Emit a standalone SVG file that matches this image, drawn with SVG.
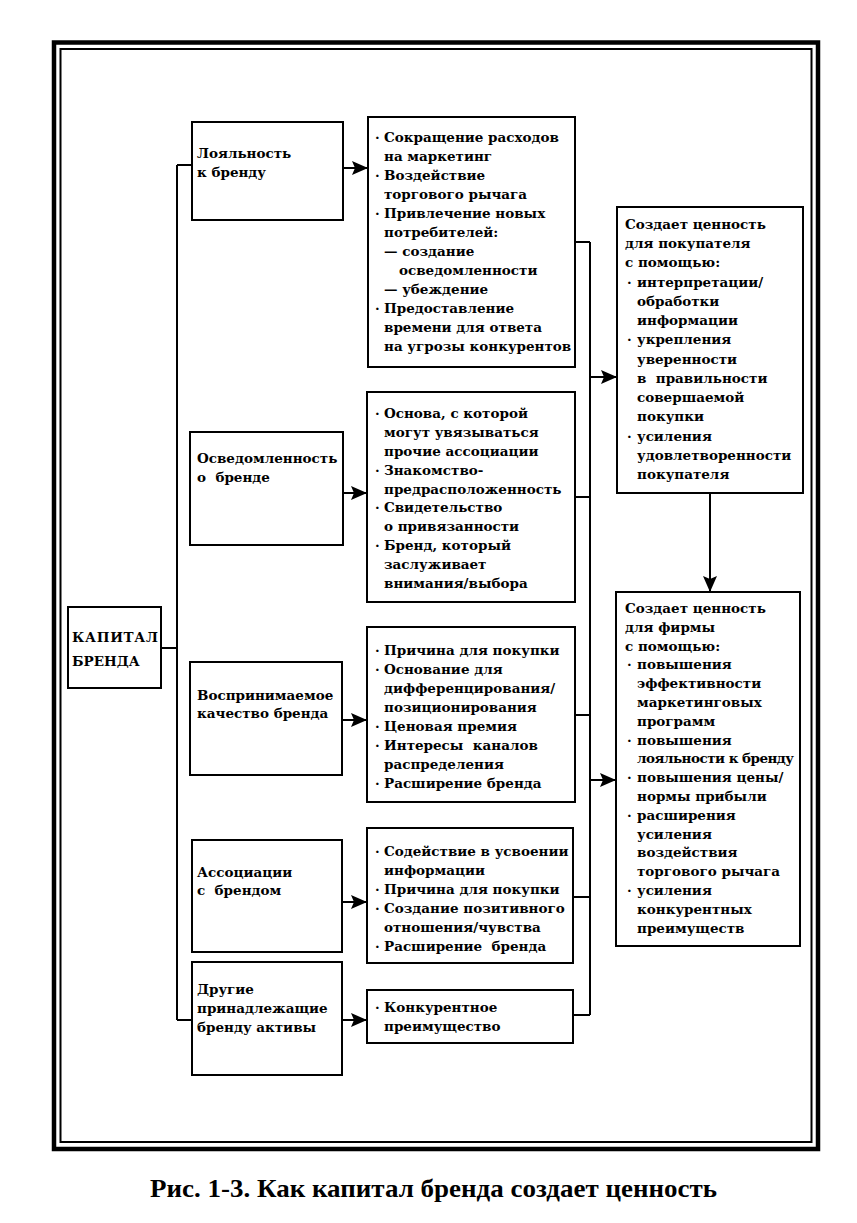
<svg xmlns="http://www.w3.org/2000/svg" width="857" height="1223" viewBox="0 0 857 1223">
<style>
.b{fill:#fff;stroke:#000;stroke-width:2}
.t{font-family:"DejaVu Serif","Liberation Serif",serif;font-weight:bold;font-size:13.5px;fill:#000;white-space:pre}
.c{fill:none;stroke:#000;stroke-width:2}
.cap{font-family:"Liberation Serif","DejaVu Serif",serif;font-weight:bold;font-size:25px;fill:#000}
</style>
<defs>
<marker id="ah" viewBox="0 0 16 14" refX="16" refY="7" markerWidth="16" markerHeight="14" markerUnits="userSpaceOnUse" orient="auto">
<path d="M0,0 L16,7 L0,14 L3,7 z" fill="#000"/>
</marker>
</defs>
<rect width="857" height="1223" fill="#fff"/>
<g id="frame">
<rect x="54" y="42.5" width="764" height="1106.5" fill="none" stroke="#000" stroke-width="4.5"/>
<rect x="60.5" y="49" width="751" height="1093" fill="none" stroke="#000" stroke-width="2"/>
</g>
<g id="connectors">
<path class="c" d="M161,648 H177 M177,165 V1020 M177,165 H192 M177,1020 H192"/>
<path class="c" d="M575,242 H590 M575,497 H590 M575,715 H590 M573,897 H590 M573,1015 H590 M590,242 V1015"/>
<path class="c" d="M343,168 H368" marker-end="url(#ah)"/>
<path class="c" d="M343,493 H367" marker-end="url(#ah)"/>
<path class="c" d="M342,720 H367" marker-end="url(#ah)"/>
<path class="c" d="M342,902 H367" marker-end="url(#ah)"/>
<path class="c" d="M342,1020 H367" marker-end="url(#ah)"/>
<path class="c" d="M590,377 H617" marker-end="url(#ah)"/>
<path class="c" d="M590,780 H616" marker-end="url(#ah)"/>
<path class="c" d="M710,493 V592" marker-end="url(#ah)"/>
</g>
<g id="capital">
<rect class="b" x="68" y="607" width="93" height="81"/>
<text class="t" x="72" y="642" textLength="86">КАПИТАЛ</text>
<text class="t" x="72" y="666">БРЕНДА</text>
</g>
<g id="loyalty">
<rect class="b" x="192" y="122" width="151" height="98"/>
<text class="t" x="197" y="158">Лояльность</text>
<text class="t" x="197" y="177">к бренду</text>
</g>
<g id="awareness">
<rect class="b" x="190" y="432" width="153" height="113"/>
<text class="t" x="197" y="463">Осведомленность</text>
<text class="t" x="197" y="482">о  бренде</text>
</g>
<g id="quality">
<rect class="b" x="190" y="662" width="152" height="113"/>
<text class="t" x="197" y="700">Воспринимаемое</text>
<text class="t" x="197" y="718">качество бренда</text>
</g>
<g id="associations">
<rect class="b" x="192" y="840" width="150" height="112"/>
<text class="t" x="197" y="877">Ассоциации</text>
<text class="t" x="197" y="895">с  брендом</text>
</g>
<g id="other">
<rect class="b" x="192" y="962" width="150" height="113"/>
<text class="t" x="197" y="994">Другие</text>
<text class="t" x="197" y="1013">принадлежащие</text>
<text class="t" x="197" y="1032">бренду активы</text>
</g>
<g id="m1">
<rect class="b" x="368" y="117" width="207" height="250"/>
<text class="t" x="375" y="142">·<tspan x="384">Сокращение расходов</tspan></text>
<text class="t" x="384" y="161">на маркетинг</text>
<text class="t" x="375" y="180">·<tspan x="384">Воздействие</tspan></text>
<text class="t" x="384" y="199">торгового рычага</text>
<text class="t" x="375" y="218">·<tspan x="384">Привлечение новых</tspan></text>
<text class="t" x="384" y="237">потребителей:</text>
<text class="t" x="384" y="256">— создание</text>
<text class="t" x="399" y="275">осведомленности</text>
<text class="t" x="384" y="294">— убеждение</text>
<text class="t" x="375" y="313">·<tspan x="384">Предоставление</tspan></text>
<text class="t" x="384" y="332">времени для ответа</text>
<text class="t" x="384" y="351">на угрозы конкурентов</text>
</g>
<g id="m2">
<rect class="b" x="367" y="392" width="208" height="210"/>
<text class="t" x="375" y="418">·<tspan x="384">Основа, с которой</tspan></text>
<text class="t" x="384" y="437">могут увязываться</text>
<text class="t" x="384" y="456">прочие ассоциации</text>
<text class="t" x="375" y="475">·<tspan x="384">Знакомство-</tspan></text>
<text class="t" x="384" y="494">предрасположенность</text>
<text class="t" x="375" y="512">·<tspan x="384">Свидетельство</tspan></text>
<text class="t" x="384" y="531">о привязанности</text>
<text class="t" x="375" y="550">·<tspan x="384">Бренд, который</tspan></text>
<text class="t" x="384" y="569">заслуживает</text>
<text class="t" x="384" y="588">внимания/выбора</text>
</g>
<g id="m3">
<rect class="b" x="367" y="627" width="208" height="175"/>
<text class="t" x="375" y="655">·<tspan x="384">Причина для покупки</tspan></text>
<text class="t" x="375" y="674">·<tspan x="384">Основание для</tspan></text>
<text class="t" x="384" y="693">дифференцирования/</text>
<text class="t" x="384" y="712">позиционирования</text>
<text class="t" x="375" y="731">·<tspan x="384">Ценовая премия</tspan></text>
<text class="t" x="375" y="750">·<tspan x="384">Интересы  каналов</tspan></text>
<text class="t" x="384" y="769">распределения</text>
<text class="t" x="375" y="788">·<tspan x="384">Расширение бренда</tspan></text>
</g>
<g id="m4">
<rect class="b" x="367" y="828" width="206" height="135"/>
<text class="t" x="375" y="856">·<tspan x="384">Содействие в усвоении</tspan></text>
<text class="t" x="384" y="875">информации</text>
<text class="t" x="375" y="894">·<tspan x="384">Причина для покупки</tspan></text>
<text class="t" x="375" y="913">·<tspan x="384">Создание позитивного</tspan></text>
<text class="t" x="384" y="932">отношения/чувства</text>
<text class="t" x="375" y="951">·<tspan x="384">Расширение  бренда</tspan></text>
</g>
<g id="m5">
<rect class="b" x="367" y="990" width="206" height="53"/>
<text class="t" x="375" y="1012">·<tspan x="384">Конкурентное</tspan></text>
<text class="t" x="384" y="1031">преимущество</text>
</g>
<g id="r1">
<rect class="b" x="617" y="207" width="186" height="286"/>
<text class="t" x="625" y="229">Создает ценность</text>
<text class="t" x="625" y="248">для покупателя</text>
<text class="t" x="625" y="267">с помощью:</text>
<text class="t" x="627" y="287">·<tspan x="637">интерпретации/</tspan></text>
<text class="t" x="637" y="306">обработки</text>
<text class="t" x="637" y="325">информации</text>
<text class="t" x="627" y="344">·<tspan x="637">укрепления</tspan></text>
<text class="t" x="637" y="364">уверенности</text>
<text class="t" x="637" y="383">в  правильности</text>
<text class="t" x="637" y="402">совершаемой</text>
<text class="t" x="637" y="421">покупки</text>
<text class="t" x="627" y="441">·<tspan x="637">усиления</tspan></text>
<text class="t" x="637" y="460">удовлетворенности</text>
<text class="t" x="637" y="479">покупателя</text>
</g>
<g id="r2">
<rect class="b" x="616" y="592" width="184" height="354"/>
<text class="t" x="625" y="613">Создает ценность</text>
<text class="t" x="625" y="632">для фирмы</text>
<text class="t" x="625" y="651">с помощью:</text>
<text class="t" x="627" y="669">·<tspan x="637">повышения</tspan></text>
<text class="t" x="637" y="688">эффективности</text>
<text class="t" x="637" y="707">маркетинговых</text>
<text class="t" x="637" y="726">программ</text>
<text class="t" x="627" y="745">·<tspan x="637">повышения</tspan></text>
<text class="t" x="637" y="763" textLength="157">лояльности к бренду</text>
<text class="t" x="627" y="782">·<tspan x="637">повышения цены/</tspan></text>
<text class="t" x="637" y="801">нормы прибыли</text>
<text class="t" x="627" y="820">·<tspan x="637">расширения</tspan></text>
<text class="t" x="637" y="839">усиления</text>
<text class="t" x="637" y="857">воздействия</text>
<text class="t" x="637" y="876">торгового рычага</text>
<text class="t" x="627" y="895">·<tspan x="637">усиления</tspan></text>
<text class="t" x="637" y="914">конкурентных</text>
<text class="t" x="637" y="933">преимуществ</text>
</g>
<g id="caption">
<text class="cap" x="150" y="1197" textLength="567" lengthAdjust="spacingAndGlyphs">Рис. 1-3. Как капитал бренда создает ценность</text>
</g>
</svg>
